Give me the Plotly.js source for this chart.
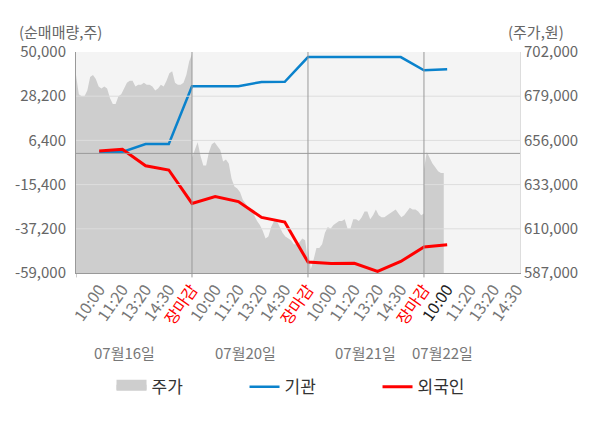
<!DOCTYPE html>
<html>
<head>
<meta charset="utf-8">
<script src="https://cdn.plot.ly/plotly-3.0.1.min.js"></script>
<style>html,body{margin:0;padding:0;background:#fff}</style>
</head>
<body>
<div id="graph01" style="width:600px;height:428px"></div>
<script>
// x axis slots
var time_labels = [
  '10:00','11:20','13:20','14:30','장마감',
  '10:00','11:20','13:20','14:30','장마감',
  '10:00','11:20','13:20','14:30','장마감',
  '10:00','11:20','13:20','14:30'];
var date_labels = ['07월16일','07월20일','07월21일','07월22일'];

// left axis (순매매량)
var qty_ticks = [-59000,-37200,-15400,6400,28200,50000];
var qty_tick_text = ['-59,000','-37,200','-15,400','6,400','28,200','50,000'];
// right axis (주가)
var price_ticks = [587000,610000,633000,656000,679000,702000];
var price_tick_text = ['587,000','610,000','633,000','656,000','679,000','702,000'];

// 기관 / 외국인, one value per labelled time
var inst = [500,700,4600,4600,33100, 33100,33100,35250,35300,47500, 47500,47500,47500,47500,41000, 41500];
var foreign = [1150,2000,-6100,-8200,-24700, -21300,-23800,-31600,-33900,-53600, -54300,-54200,-58200,-53300,-46200, -45100];

// 주가, intraday
var price_0716 = [690000,680000,679000,679000,682000,689000,690000,688000,684000,683000,
  684000,683000,678000,675000,675000,679000,680000,683000,686000,687000,
  687000,684000,685000,685000,686000,685000,685000,684000,682000,683000,
  685000,684000,687000,691000,692000,686000,685000,685000,686000,690000,
  697000,701000];
var price_0720 = [647000,651000,655000,648000,643000,643000,650000,654000,655000,653000,
  651000,645000,646000,644000,636000,632000,631000,629000,625000,623000,
  621000,620000,617000,614000,612000,609000,605000,606000,611000,614000,
  614000,611000,608000,606000,605000,604000,602000,602000,603000,605000,
  604000,593000];
var price_0721 = [600000,589000,594000,600000,600000,602000,608000,611000,610000,612000,
  613000,614000,614000,615000,610000,610000,615000,615000,614000,616000,
  619000,619000,615000,617000,620000,617000,616000,616000,617000,618000,
  619000,620000,618000,616000,617000,619000,621000,620000,620000,619000,
  617000,618000];
var price_0722 = [641000,650000,647000,644000,642000,640000,639000,639000];

var slots_per_day = 5;
var pts_per_day = 42;

var price_x = [], price_y = [];
[price_0716, price_0720, price_0721, price_0722].forEach(function(day, d) {
  day.forEach(function(v, i) {
    price_x.push(d * slots_per_day + slots_per_day * i / (pts_per_day - 1));
    price_y.push(v);
  });
});

var line_x = inst.map(function(v, i) { return i + 1; });

var tick_vals = time_labels.map(function(t, i) { return i + 1; });
var tick_text = time_labels.map(function(t, i) {
  if (t === '장마감') return '<span style="color:#ff0000">' + t + '</span>';
  if (i === 15) return '<span style="color:#222">' + t + '</span>';
  return t;
});

// legend box only
var trace_price_key = {
  x: [null],
  y: [null],
  type: 'scatter',
  mode: 'lines',
  fill: 'tozeroy',
  fillcolor: '#cecece',
  line: {width: 10, color: '#cecece'},
  name: '주가',
  yaxis: 'y'
};
var trace_price = {
  x: price_x,
  y: price_y,
  type: 'scatter',
  mode: 'lines',
  fill: 'tozeroy',
  fillcolor: '#cecece',
  line: {width: 0, color: '#cecece'},
  name: '주가',
  showlegend: false,
  yaxis: 'y'
};
var trace_inst = {
  x: line_x,
  y: inst,
  type: 'scatter',
  mode: 'lines',
  line: {color: '#0a82cc', width: 2.5},
  name: '기관',
  yaxis: 'y2'
};
var trace_foreign = {
  x: line_x,
  y: foreign,
  type: 'scatter',
  mode: 'lines',
  line: {color: '#ff0000', width: 3},
  name: '외국인',
  yaxis: 'y2'
};

var shapes = [];
// horizontal grid, over the grey area
qty_ticks.slice(1, -1).forEach(function(v) {
  shapes.push({type: 'line', xref: 'paper', yref: 'y2', x0: 0, x1: 1, y0: v, y1: v,
    line: {color: '#dddddd', width: 1}, layer: 'above'});
});
shapes.push({type: 'line', xref: 'paper', yref: 'y2', x0: 0, x1: 1, y0: 0, y1: 0,
  line: {color: '#999999', width: 1}, layer: 'above'});
// day separators + bottom ticks
[0, 5, 10, 15].forEach(function(s) {
  shapes.push({type: 'line', xref: 'x', yref: 'paper', x0: s, x1: s,
    y0: -0.02, y1: s === 0 ? 0 : 1,
    line: {color: '#999999', width: 1}, layer: 'above'});
});

var date_pos = [2.1, 7.3, 12.5, 15.8];
var annotations = date_labels.map(function(t, i) {
  return {text: t, x: date_pos[i], xref: 'x', y: -0.36, yref: 'paper',
    xanchor: 'center', yanchor: 'middle',
    showarrow: false, font: {size: 15, color: '#777'}};
});
annotations.push({text: '(순매매량,주)', xref: 'paper', yref: 'paper', x: -0.036, y: 1.095,
  xanchor: 'center', yanchor: 'middle',
  showarrow: false, font: {size: 15, color: '#666'}});
annotations.push({text: '(주가,원)', xref: 'paper', yref: 'paper', x: 1.036, y: 1.095,
  xanchor: 'center', yanchor: 'middle',
  showarrow: false, font: {size: 15, color: '#666'}});

var layout = {
  width: 600,
  height: 428,
  margin: {l: 76, r: 80, t: 52, b: 155},
  paper_bgcolor: '#ffffff',
  plot_bgcolor: '#f4f4f4',
  font: {family: '"Noto Sans CJK KR", "Noto Sans", sans-serif', color: '#666'},
  showlegend: true,
  legend: {orientation: 'h', x: 0.08, xanchor: 'left', y: -0.435, yanchor: 'top',
    font: {size: 17, color: '#333'}, entrywidth: 88, traceorder: 'normal'},
  xaxis: {
    range: [0, 19.14],
    tickvals: tick_vals,
    ticktext: tick_text,
    tickangle: -55,
    tickfont: {size: 16, color: '#777'},
    ticks: '',
    showgrid: false,
    zeroline: false,
    showline: true,
    linecolor: '#999',
    automargin: false
  },
  yaxis: {
    side: 'right',
    range: [587000, 702000],
    tickvals: price_ticks,
    ticktext: price_tick_text,
    tickfont: {size: 15, color: '#666'},
    ticks: '',
    showgrid: false,
    zeroline: false,
    showline: true,
    linecolor: '#dddddd',
    automargin: false
  },
  yaxis2: {
    side: 'left',
    overlaying: 'y',
    range: [-59000, 50000],
    tickvals: qty_ticks,
    ticktext: qty_tick_text,
    tickfont: {size: 15, color: '#666'},
    ticks: '',
    ticklabelstandoff: 6,
    showgrid: false,
    zeroline: false,
    showline: true,
    linecolor: '#999',
    automargin: false
  },
  shapes: shapes,
  annotations: annotations,
  hovermode: false
};

Plotly.newPlot('graph01', [trace_price_key, trace_price, trace_inst, trace_foreign], layout, {displayModeBar: false, staticPlot: true});
</script>
</body>
</html>
